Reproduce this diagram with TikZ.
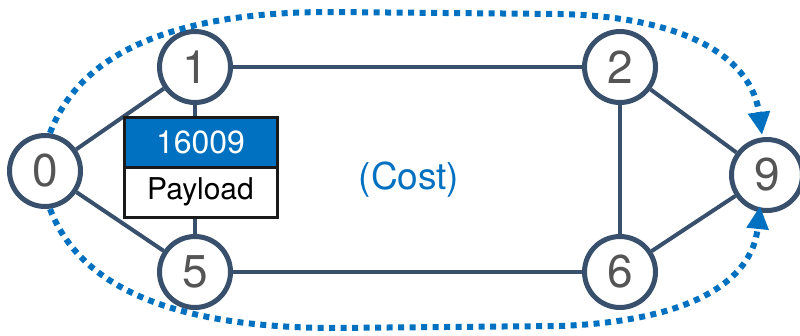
\documentclass[tikz,border=0pt]{standalone}
\usepackage{fontspec}
\setmainfont{TeX Gyre Heros}
\usetikzlibrary{arrows.meta}
\definecolor{nodeline}{HTML}{38506C}
\definecolor{numgray}{HTML}{555555}
\definecolor{ciscoblue}{HTML}{0070C0}
\definecolor{boxline}{HTML}{1A1A1A}
\tikzset{
  router/.style={circle, draw=nodeline, line width=5pt, fill=white, minimum size=71pt, inner sep=0pt,
    text=numgray, font=\fontsize{46}{46}\selectfont},
  link/.style={draw=nodeline, line width=4pt},
  pathflow/.style={draw=ciscoblue, line width=6pt, dash pattern=on 6pt off 5.5pt,
    -{Triangle[length=23pt,width=21pt]}},
  labelbox/.style={draw=boxline, line width=3pt, minimum width=153pt, minimum height=50pt, inner sep=0pt},
}
\begin{document}
\begin{tikzpicture}[x=1pt,y=-1pt]
\useasboundingbox (0,0) rectangle (800,335);
% nodes
\node[router] (n0) at (45,171) {0};
\node[router] (n1) at (195,67) {1};
\node[router] (n5) at (195,272) {5};
\node[router] (n2) at (620,67) {2};
\node[router] (n6) at (620,272) {6};
\node[router] (n9) at (767,175) {9};
\node[labelbox, fill=ciscoblue, text=white, font=\fontsize{32}{32}\selectfont] (label) at (200.5,142) {16009};
\node[labelbox, fill=white, text=black, font=\fontsize{30}{30}\selectfont] (payload) at (200.5,192) {Payload};
\node[text=ciscoblue, font=\fontsize{37}{37}\selectfont] (cost) at (409,180) {(Cost)};
% links
\path[link] (n0) -- (n1);
\path[link] (n0) -- (n5);
\path[link] (n1) -- (n2);
\path[link] (n5) -- (n6);
\path[link] (n2) -- (n6);
\path[link] (n2) -- (n9);
\path[link] (n6) -- (n9);
\path[link] (n1.south) -- (n1.south |- label.north);
\path[link] (n5.north |- payload.south) -- (n5.north);
% redraw boxes over link ends
\node[labelbox, fill=ciscoblue, text=white, font=\fontsize{32}{32}\selectfont] at (label) {16009};
\node[labelbox, fill=white, text=black, font=\fontsize{30}{30}\selectfont] at (payload) {Payload};
% flows
\coordinate (ta) at (50,133);
\coordinate (tb) at (330,12);
\coordinate (tc) at (560,14);
\coordinate (td) at (762,135);
\coordinate (ba) at (50,209);
\coordinate (bb) at (330,328);
\coordinate (bc) at (560,326);
\coordinate (bd) at (760,206);
\path[pathflow] (ta) .. controls (85,40) and (200,12) .. (tb) -- (tc) .. controls (690,17) and (752,60) .. (td);
\path[pathflow] (ba) .. controls (85,300) and (200,327) .. (bb) -- (bc) .. controls (690,321) and (752,282) .. (bd);
\end{tikzpicture}
\end{document}
